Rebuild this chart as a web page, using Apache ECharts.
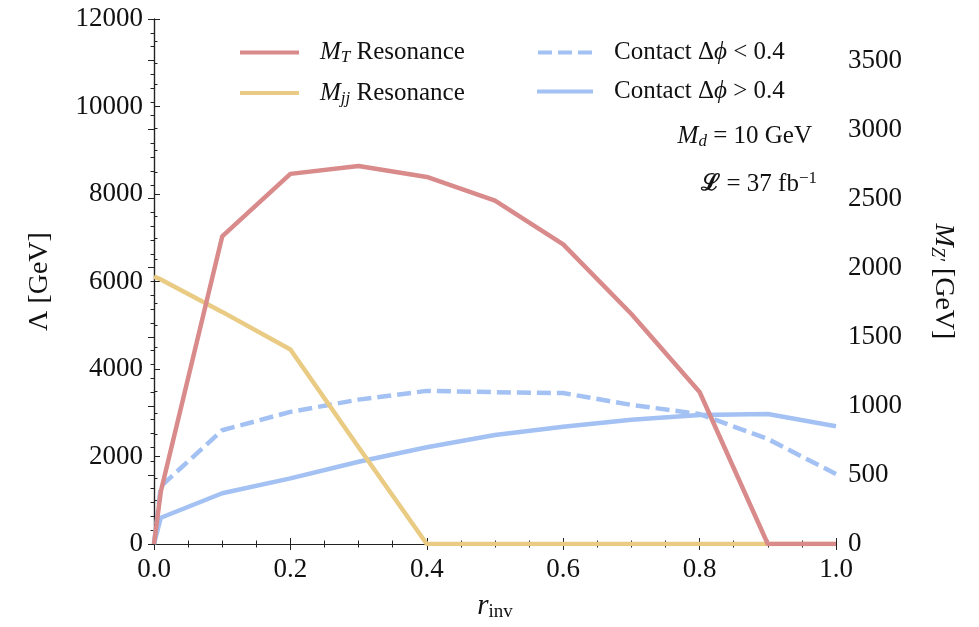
<!DOCTYPE html>
<html>
<head>
<meta charset="utf-8">
<style>
  html, body { margin: 0; padding: 0; background: #fff; }
  #chart { width: 979px; height: 627px; }
</style>
<script src="https://cdn.jsdelivr.net/npm/echarts@6/dist/echarts.min.js"></script>
</head>
<body>
<div id="chart"></div>
<script>
// r_inv sample points
const rInv = [0.0, 0.01, 0.1, 0.2, 0.3, 0.4, 0.5, 0.6, 0.7, 0.8, 0.9, 1.0];

// Resonance limits on M_Z' [GeV] (right axis)
const mtResonance  = [0, 380, 2226, 2679, 2736, 2657, 2486, 2169, 1665, 1100, 0, 0];
const mjjResonance = [1935, 1915, 1680, 1408, 700, 0, 0, 0, 0, 0, 0, 0];

// Contact-operator limits on Λ [GeV] (left axis)
const contactLow  = [0, 1320, 2600, 3020, 3300, 3500, 3470, 3450, 3180, 2970, 2400, 1600];
const contactHigh = [0, 600, 1160, 1500, 1880, 2210, 2490, 2680, 2840, 2950, 2970, 2690];

// Axis ticks
const xTicks = [0.0, 0.2, 0.4, 0.6, 0.8, 1.0];
const lambdaTicks = [0, 2000, 4000, 6000, 8000, 10000, 12000];
const mzTicks = [0, 500, 1000, 1500, 2000, 2500, 3000, 3500];

const seriesNames = [
  'M_T Resonance',
  'M_jj Resonance',
  'Contact Δϕ < 0.4',
  'Contact Δϕ > 0.4'
];

const SERIF = '"Liberation Serif", "DejaVu Serif", serif';
const RED = '#d98a8a';
const YELLOW = '#e9cb84';
const BLUE = '#a3c1f3';
const LINE_W = 4.5;

// legend glyphs: a plain bar and a three-dash bar
const SOLID_ICON = 'rect';
const DASH_ICON = 'path://M0,0h14v4h-14z M20,0h14v4h-14z M40,0h14v4h-14z';

const pairs = (ys) => rInv.map((x, i) => [x, ys[i]]);

const richMath = {
  i: { fontFamily: SERIF, fontStyle: 'italic', fontSize: 25, color: '#111' },
  s: { fontFamily: SERIF, fontStyle: 'italic', fontSize: 17, color: '#111', padding: [11, 0, 0, 0] }
};

const legendLabel = {
  'M_T Resonance': '{i|M}{s|T} Resonance',
  'M_jj Resonance': '{i|M}{s|jj} Resonance',
  'Contact Δϕ < 0.4': 'Contact Δ{i|ϕ} < 0.4',
  'Contact Δϕ > 0.4': 'Contact Δ{i|ϕ} > 0.4'
};

const legendCommon = {
  orient: 'vertical',
  top: 35,
  itemHeight: 4,
  itemGap: 14,
  textStyle: { fontFamily: SERIF, fontSize: 25, color: '#111', rich: richMath, padding: [0, 0, 0, 16] },
  formatter: (n) => legendLabel[n]
};

const labelFont = { fontFamily: SERIF, fontSize: 27, color: '#111' };

const lineSeries = (name, data, color, yAxisIndex, dashed) => ({
  name,
  type: 'line',
  data: pairs(data),
  yAxisIndex,
  showSymbol: false,
  symbol: 'none',
  lineStyle: { color, width: LINE_W, type: dashed ? [14, 6] : 'solid', cap: 'butt' },
  itemStyle: { color },
  emphasis: { disabled: true },
  animation: false
});

const chart = echarts.init(document.getElementById('chart'), null, { renderer: 'canvas' });

chart.setOption({
  backgroundColor: '#ffffff',
  animation: false,
  grid: { left: 154, right: 143, top: 19, bottom: 79, containLabel: false },
  legend: [
    Object.assign({}, legendCommon, {
      left: 235, itemWidth: 59,
      data: [
        { name: seriesNames[0], icon: SOLID_ICON },
        { name: seriesNames[1], icon: SOLID_ICON }
      ]
    }),
    Object.assign({}, legendCommon, {
      left: 532, itemWidth: 56,
      data: [
        { name: seriesNames[2], icon: DASH_ICON },
        { name: seriesNames[3], icon: SOLID_ICON }
      ]
    })
  ],
  xAxis: [
    {
      type: 'value', min: 0, max: 1, interval: 0.2, position: 'bottom',
      name: '{i|r}{s|inv}', nameLocation: 'middle', nameGap: 46,
      nameTextStyle: {
        rich: {
          i: { fontFamily: SERIF, fontStyle: 'italic', fontSize: 29, color: '#111' },
          s: { fontFamily: SERIF, fontSize: 19, color: '#111', padding: [13, 0, 0, 0] }
        }
      },
      axisLine: { lineStyle: { color: '#222', width: 1.2 } },
      axisTick: { inside: true, length: 6, lineStyle: { color: '#222' } },
      minorTick: { show: true, splitNumber: 4, length: 3.5, lineStyle: { color: '#222' } },
      splitLine: { show: false },
      axisLabel: Object.assign({ margin: 12, formatter: (v) => xTicks.includes(+v.toFixed(1)) ? v.toFixed(1) : '' }, labelFont)
    },
    {
      type: 'value', min: 0, max: 1, interval: 0.2, position: 'top',
      axisLine: { lineStyle: { color: '#222', width: 1.2 } },
      axisTick: { inside: true, length: 6, lineStyle: { color: '#222' } },
      minorTick: { show: true, splitNumber: 4, length: 3.5, lineStyle: { color: '#222' } },
      splitLine: { show: false },
      axisLabel: { show: false }
    }
  ],
  yAxis: [
    {
      type: 'value', min: 0, max: 12000, interval: 2000, position: 'left',
      name: 'Λ [GeV]', nameLocation: 'middle', nameGap: 100, nameRotate: 90,
      nameTextStyle: { fontFamily: SERIF, fontSize: 28, color: '#111' },
      axisLine: { show: true, lineStyle: { color: '#222', width: 1.2 } },
      axisTick: { inside: true, length: 6, lineStyle: { color: '#222' } },
      minorTick: { show: true, splitNumber: 4, length: 3.5, lineStyle: { color: '#222' } },
      splitLine: { show: false },
      axisLabel: Object.assign({ margin: 11, formatter: (v) => lambdaTicks.includes(v) ? String(v) : '' }, labelFont)
    },
    {
      type: 'value', min: 0, max: 3800, interval: 500, position: 'right',
      name: '{i|M}{s|Z′} [GeV]', nameLocation: 'middle', nameGap: 92, nameRotate: -90,
      nameTextStyle: {
        fontFamily: SERIF, fontSize: 28, color: '#111',
        rich: {
          i: { fontFamily: SERIF, fontStyle: 'italic', fontSize: 28, color: '#111' },
          s: { fontFamily: SERIF, fontStyle: 'italic', fontSize: 18, color: '#111', padding: [12, 0, 0, 0] }
        }
      },
      axisLine: { show: true, lineStyle: { color: '#222', width: 1.2 } },
      axisTick: { inside: true, length: 6, lineStyle: { color: '#222' } },
      minorTick: { show: true, splitNumber: 5, length: 3.5, lineStyle: { color: '#222' } },
      splitLine: { show: false },
      axisLabel: Object.assign({ margin: 12, formatter: (v) => mzTicks.includes(v) ? String(v) : '' }, labelFont)
    }
  ],
  series: [
    lineSeries(seriesNames[2], contactLow, BLUE, 0, true),
    lineSeries(seriesNames[3], contactHigh, BLUE, 0, false),
    lineSeries(seriesNames[1], mjjResonance, YELLOW, 1, false),
    lineSeries(seriesNames[0], mtResonance, RED, 1, false)
  ],
  graphic: [
    {
      type: 'text', right: 979 - 812, top: 124,
      style: {
        text: '{i|M}{s|d} = 10 GeV',
        fontFamily: SERIF, fontSize: 25, fill: '#111',
        rich: richMath
      }
    },
    {
      type: 'text', right: 979 - 817, top: 170,
      style: {
        text: '{L|ℒ} = 37 fb{p|−1}',
        fontFamily: SERIF, fontSize: 25, fill: '#111',
        rich: {
          L: { fontFamily: '"DejaVu Serif", serif', fontWeight: 'bold', fontSize: 23, color: '#111' },
          p: { fontFamily: SERIF, fontSize: 17, color: '#111', padding: [0, 0, 12, 0] }
        }
      }
    }
  ]
});
</script>
</body>
</html>
